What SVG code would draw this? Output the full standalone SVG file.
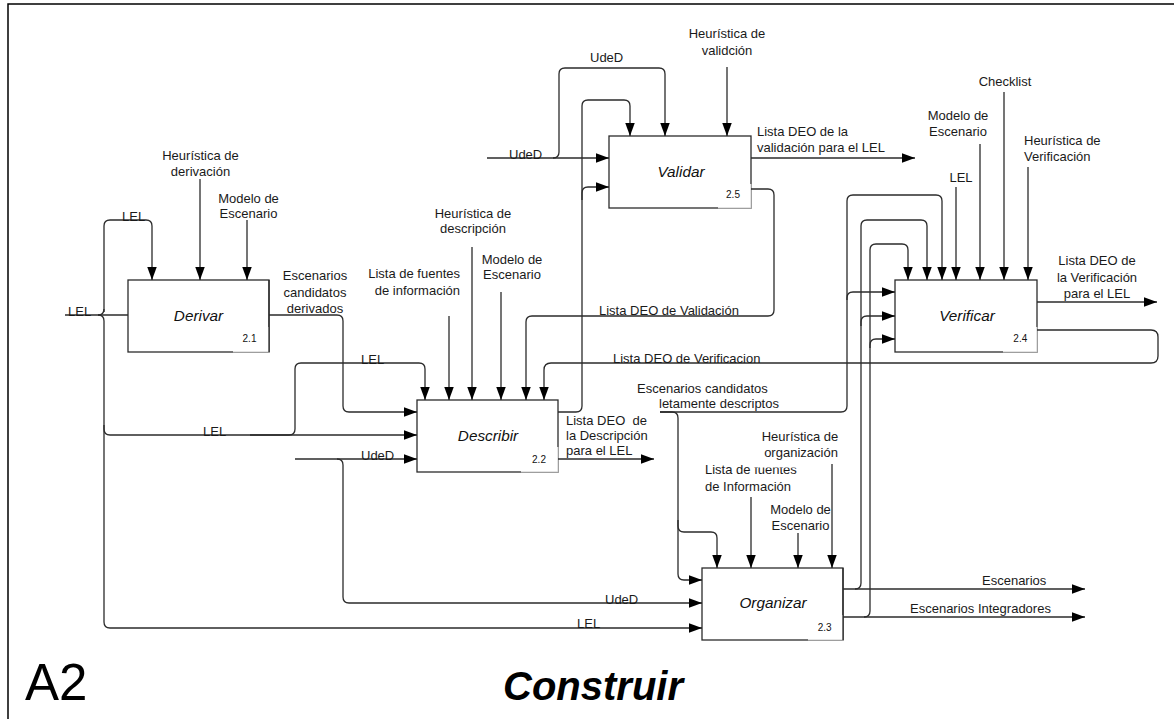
<svg xmlns="http://www.w3.org/2000/svg" width="1174" height="719" viewBox="0 0 1174 719">
<style>
.ln{fill:none;stroke:#2b2b2b;stroke-width:1.3}
.ar{marker-end:url(#ah)}
.t{font-family:"Liberation Sans",Arial,sans-serif;font-size:13px;fill:#1a1a1a}
.c{text-anchor:middle}
.e{text-anchor:end}
.box{fill:#fff;stroke:#2b2b2b;stroke-width:1.3}
.bl{font-family:"Liberation Sans",Arial,sans-serif;font-size:15.3px;font-style:italic;text-anchor:middle;fill:#111}
.num{font-family:"Liberation Sans",Arial,sans-serif;font-size:10px;text-anchor:middle;fill:#111}
.nb{fill:#fff;stroke:none}
.nl{fill:none;stroke:#c8c8c8;stroke-width:1}
.ttl{font-family:"Liberation Sans",Arial,sans-serif;fill:#000}
</style>
<defs>
<marker id="ah" markerUnits="userSpaceOnUse" markerWidth="13" markerHeight="9.5" refX="13" refY="4.75" orient="auto" viewBox="0 0 13 9.5"><path d="M0,0 L13,4.75 L0,9.5 z" fill="#000"/></marker>
</defs>
<rect x="0" y="0" width="1174" height="719" fill="#fff"/>
<path d="M8,719 V4 H1174" fill="none" stroke="#000" stroke-width="1.5"/>

<g id="node-derivar">
<rect class="box" x="128" y="280" width="141" height="72"/>
<rect class="nb" x="233" y="327" width="36" height="25"/>
<path class="nl" d="M233,352 H269"/>
<path class="ln" d="M269,280 V352"/>
<text class="bl" x="198.5" y="320.5">Derivar</text>
<text class="num" x="249.5" y="342">2.1</text>
</g>

<g id="node-describir">
<rect class="box" x="417" y="400" width="141" height="72"/>
<rect class="nb" x="521" y="447" width="37" height="25"/>
<path class="nl" d="M521,472 H558 V447"/>
<text class="bl" x="488" y="440.5">Describir</text>
<text class="num" x="539" y="462.5">2.2</text>
</g>

<g id="node-validar">
<rect class="box" x="609" y="136" width="142" height="72"/>
<rect class="nb" x="718" y="184" width="33" height="24"/>
<path class="nl" d="M718,208 H751 V184"/>
<text class="bl" x="681" y="176.7">Validar</text>
<text class="num" x="733" y="198.3">2.5</text>
</g>

<g id="node-verificar">
<rect class="box" x="895" y="280" width="142" height="72"/>
<rect class="nb" x="1003" y="327" width="34" height="25"/>
<path class="nl" d="M1003,352 H1037 V327"/>
<text class="bl" x="967" y="320.5">Verificar</text>
<text class="num" x="1020.3" y="342.3">2.4</text>
</g>

<g id="node-organizar">
<rect class="box" x="702" y="568" width="141" height="72"/>
<rect class="nb" x="808" y="615" width="35" height="25"/>
<path class="nl" d="M808,640 H843"/>
<path class="ln" d="M843,568 V640"/>
<text class="bl" x="773" y="608.3">Organizar</text>
<text class="num" x="824.7" y="630.7">2.3</text>
</g>

<g id="connectors">
<!-- Derivar -->
<path class="ln ar" d="M104,312 V226 Q104,220 110,220 H146 Q152,220 152,226 V280"/>
<path class="ln" d="M104,309 Q104,315 98,315"/>
<path class="ln ar" d="M98,315 Q104,315 104,321 V622 Q104,628 110,628 H702"/>
<path class="ln" d="M65,315 H128"/>
<path class="ln ar" d="M200,179 V280"/>
<path class="ln ar" d="M247,220 V280"/>
<path class="ln ar" d="M269,315 H337 Q343,315 343,321 V406 Q343,412 349,412 H417"/>
<!-- Describir inputs -->
<path class="ln ar" d="M104,425 V429 Q104,435 110,435 H417"/>
<path class="ln ar" d="M250,435 H289 Q295,435 295,429 V369 Q295,363 301,363 H419 Q425,363 425,369 V400"/>
<path class="ln ar" d="M295,459 H417"/>
<path class="ln ar" d="M337,459 Q343,459 343,465 V597 Q343,603 349,603 H702"/>
<path class="ln ar" d="M449,316 V400"/>
<path class="ln ar" d="M472,247 V400"/>
<path class="ln ar" d="M501,292 V400"/>
<path class="ln ar" d="M751,189 H768 Q774,189 774,195 V310 Q774,316 768,316 H532 Q526,316 526,322 V400"/>
<path class="ln ar" d="M1037,330 H1151 Q1158,330 1158,337 V356 Q1158,363 1151,363 H551 Q544,363 544,370 V400"/>
<!-- Describir outputs -->
<path class="ln ar" d="M558,412 H576 Q582,412 582,406 V106 Q582,100 588,100 H624 Q630,100 630,106 V136"/>
<path class="ln ar" d="M582,200 V193 Q582,187 588,187 H609"/>
<path class="ln ar" d="M558,459 H654"/>
<path class="ln ar" d="M660,412 H841 Q847,412 847,406 V201 Q847,195 853,195 H936 Q942,195 942,201 V280"/>
<path class="ln ar" d="M847,300 V298 Q847,292 853,292 H895"/>
<path class="ln ar" d="M660,412 H672 Q678,412 678,418 V526 Q678,532 684,532 H711 Q717,532 717,538 V568"/>
<path class="ln ar" d="M678,520 V574 Q678,580 684,580 H702"/>
<!-- Organizar inputs -->
<path class="ln ar" d="M751,497 V568"/>
<path class="ln ar" d="M798,533 V568"/>
<path class="ln ar" d="M832,464 V568"/>
<!-- Validar -->
<path class="ln ar" d="M487,158 H609"/>
<path class="ln ar" d="M553,158 Q559,158 559,152 V74 Q559,68 565,68 H659 Q665,68 665,74 V136"/>
<path class="ln ar" d="M727,67 V136"/>
<path class="ln ar" d="M751,158 H915"/>
<!-- Verificar -->
<path class="ln ar" d="M956,187 V280"/>
<path class="ln ar" d="M980,144 V280"/>
<path class="ln ar" d="M1004,92 V280"/>
<path class="ln ar" d="M1028,167 V280"/>
<path class="ln ar" d="M1037,302 H1157"/>
<!-- Organizar outputs -->
<path class="ln ar" d="M843,589 H1085"/>
<path class="ln ar" d="M855,589 Q861,589 861,583 V226 Q861,220 867,220 H921 Q927,220 927,226 V280"/>
<path class="ln ar" d="M861,326 V322 Q861,316 867,316 H895"/>
<path class="ln ar" d="M843,617 H1085"/>
<path class="ln ar" d="M864,617 Q870,617 870,611 V250 Q870,244 876,244 H902 Q908,244 908,250 V280"/>
<path class="ln ar" d="M870,348 V345 Q870,339 876,339 H895"/>
</g>

<g id="labels">
<text class="t" x="122" y="221">LEL</text>
<text class="t" x="68" y="315.5">LEL</text>
<text class="t c" x="200.5" y="160"><tspan x="200.5">Heurística de</tspan><tspan x="200.5" y="176">derivación</tspan></text>
<text class="t c" x="248.5" y="202.5"><tspan x="248.5">Modelo de</tspan><tspan x="248.5" y="218">Escenario</tspan></text>
<text class="t c" x="315" y="280"><tspan x="315">Escenarios</tspan><tspan x="315" y="296.5">candidatos</tspan><tspan x="315" y="312.5">derivados</tspan></text>
<text class="t e" x="460" y="278"><tspan x="460">Lista de fuentes</tspan><tspan x="460" y="295">de información</tspan></text>
<text class="t c" x="473" y="218"><tspan x="473">Heurística de</tspan><tspan x="473" y="233">descripción</tspan></text>
<text class="t c" x="512" y="263.5"><tspan x="512">Modelo de</tspan><tspan x="512" y="279">Escenario</tspan></text>
<text class="t" x="361" y="363.5">LEL</text>
<text class="t" x="203" y="435.5">LEL</text>
<text class="t" x="361" y="459.5">UdeD</text>
<text class="t" x="566" y="425" xml:space="preserve"><tspan x="566">Lista DEO  de</tspan><tspan x="566" y="440">la Descripción</tspan><tspan x="566" y="455">para el LEL</tspan></text>
<text class="t" x="605" y="603.5">UdeD</text>
<text class="t" x="577" y="628">LEL</text>
<text class="t" x="590" y="62">UdeD</text>
<text class="t" x="509" y="158.5">UdeD</text>
<text class="t c" x="727" y="38"><tspan x="727">Heurística de</tspan><tspan x="727" y="55">validción</tspan></text>
<text class="t" x="757" y="136"><tspan x="757">Lista DEO de la</tspan><tspan x="757" y="151.5">validación para el LEL</tspan></text>
<text class="t c" x="1005" y="86">Checklist</text>
<text class="t c" x="958" y="120"><tspan x="958">Modelo de</tspan><tspan x="958" y="136">Escenario</tspan></text>
<text class="t c" x="961" y="181.5">LEL</text>
<text class="t" x="1024" y="145"><tspan x="1024">Heurística de</tspan><tspan x="1024" y="160.5">Verificación</tspan></text>
<text class="t c" x="1097" y="265"><tspan x="1097">Lista DEO de</tspan><tspan x="1097" y="281.5">la Verificación</tspan><tspan x="1097" y="297.5">para el LEL</tspan></text>
<text class="t" x="599" y="315">Lista DEO de Validación</text>
<text class="t" x="613" y="363">Lista DEO de Verificacion</text>
<text class="t" x="637" y="393">Escenarios candidatos</text>
<text class="t" x="659" y="408.3">letamente descriptos</text>
<text class="t" x="705" y="474"><tspan x="705">Lista de fuentes</tspan><tspan x="705" y="490.7">de Información</tspan></text>
<rect class="nb" x="752" y="444" width="78" height="23.5"/>
<text class="t c" x="800" y="441"><tspan x="800">Heurística de</tspan><tspan x="801" y="457">organización</tspan></text>
<text class="t c" x="800.5" y="514"><tspan x="800.5">Modelo de</tspan><tspan x="800.5" y="529.5">Escenario</tspan></text>
<text class="t" x="982" y="584.5">Escenarios</text>
<text class="t" x="910" y="612.8">Escenarios Integradores</text>
</g>

<g id="title">
<text class="ttl" x="25" y="700" font-size="51">A2</text>
<text class="ttl" x="593" y="700" font-size="40" font-weight="bold" font-style="italic" text-anchor="middle">Construir</text>
</g>
</svg>
